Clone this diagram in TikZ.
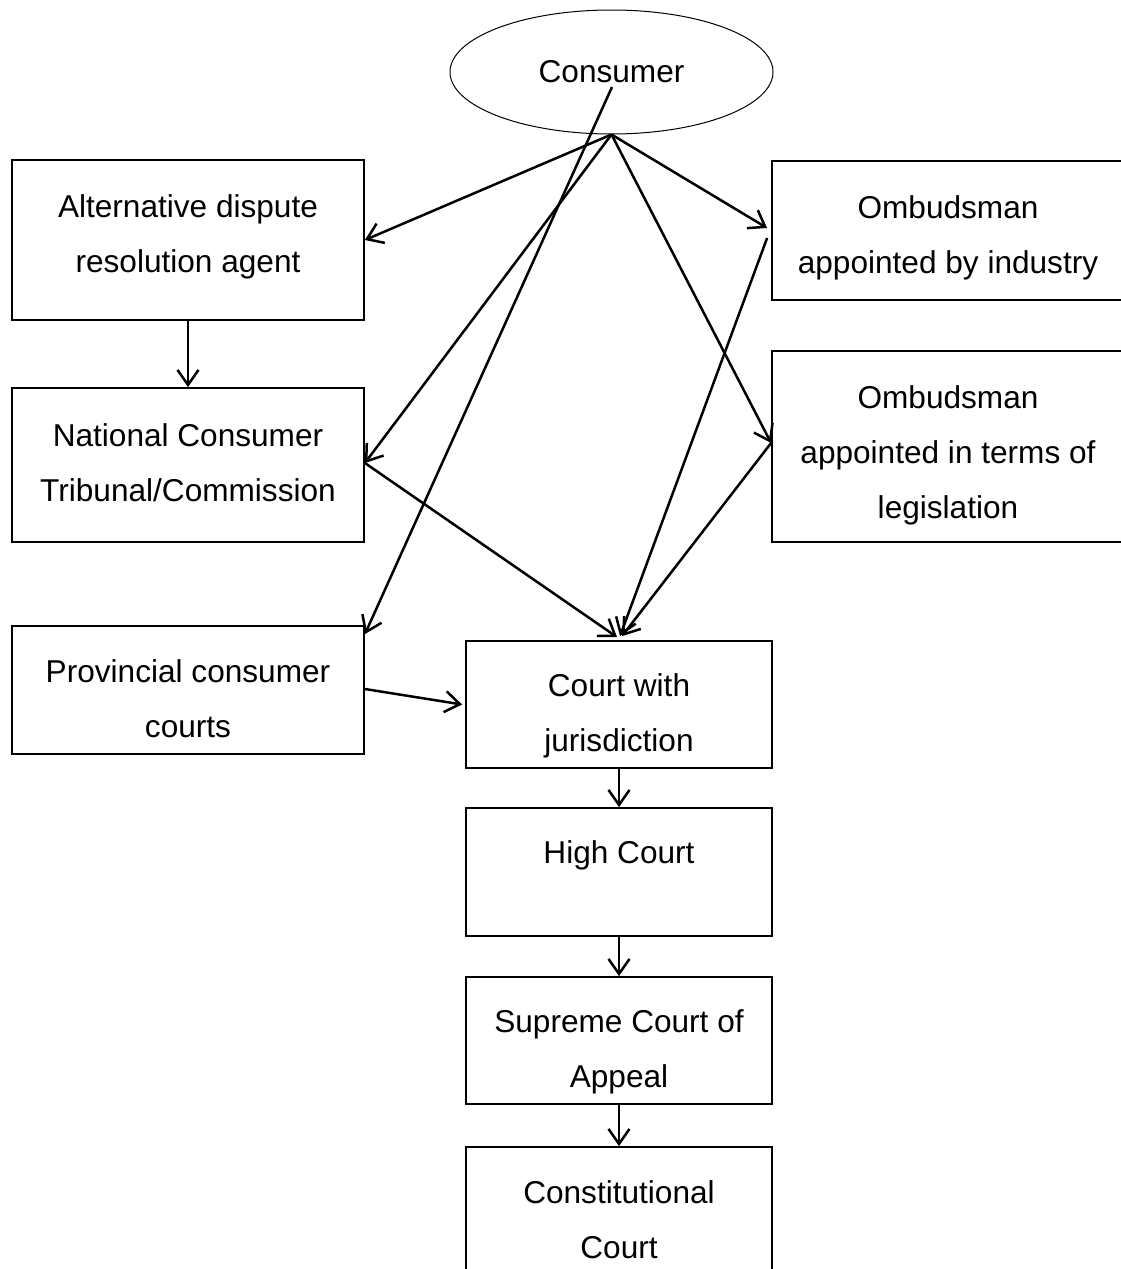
\documentclass[tikz,border=0pt]{standalone}
\usepackage{fontspec}
\setmainfont{Liberation Sans}
\usetikzlibrary{shapes.geometric,arrows.meta}
\begin{document}
\begin{tikzpicture}[x=1pt,y=-1pt,
  box/.style={draw,line width=1.8pt,rectangle,inner sep=0pt},
  wide/.style={box,minimum width=352pt},
  court/.style={box,minimum width=306pt},
  lbl/.style={inner sep=0pt,align=center,font=\fontsize{31.6pt}{55pt}\selectfont},
  conn/.style={line width=2.5pt,-{Straight Barb[length=15pt,width=21pt,line width=2.5pt]}}]
\useasboundingbox (0,0) rectangle (1121,1269);
\clip (0,0) rectangle (1121,1269);
% shapes
\node[draw,line width=1pt,ellipse,minimum width=323pt,minimum height=124pt,inner sep=0pt] (consumer) at (611.5,72) {};
\node[lbl] (consumert) at (611.5,72) {Consumer};
\coordinate (cin) at (612,87);
\node[wide,minimum height=160pt] (adr) at (188,240) {};
\node[lbl] (adrt) at (188,237) {Alternative dispute\\resolution agent};
\node[wide,minimum height=154pt] (nat) at (188,465) {};
\node[lbl] (natt) at (188,463) {National Consumer\\Tribunal/Commission};
\node[wide,minimum height=128pt] (prov) at (188,690) {};
\node[lbl] (provt) at (188,699) {Provincial consumer\\courts};
\node[wide,minimum height=139pt] (omb1) at (948,230.5) {};
\node[lbl] (omb1t) at (948,237.5) {Ombudsman\\appointed by industry};
\node[wide,minimum height=191pt] (omb2) at (948,446.5) {};
\node[lbl] (omb2t) at (948,455.5) {Ombudsman\\appointed in terms of\\legislation};
\node[court,minimum height=127pt] (cwj) at (619,704.5) {};
\node[lbl] (cwjt) at (619,715.5) {Court with\\jurisdiction};
\node[court,minimum height=128pt] (high) at (619,872) {};
\node[lbl] (hight) at (619,855) {High Court};
\node[court,minimum height=127pt] (sca) at (619,1040.5) {};
\node[lbl] (scat) at (619,1051.5) {Supreme Court of\\Appeal};
\node[court,minimum height=127pt] (cc) at (619,1210.5) {};
\node[lbl] (cct) at (619,1219.5) {Constitutional\\Court};
% connectors from consumer
\draw[conn] (consumer.south) -- (adr.east);
\draw[conn] (consumer.south) -- ([yshift=2pt]nat.east);
\draw[conn] (consumer.south) -- ([xshift=-4pt,yshift=2.5pt]omb1.west);
\draw[conn] (consumer.south) -- ([yshift=3.5pt]omb2.west);
\draw[conn] (cin) -- ([yshift=-9pt]prov.north east);
% to court with jurisdiction
\draw[conn] ([yshift=2pt]nat.east) -- ([xshift=-2pt,yshift=3pt]cwj.north);
\draw[conn] ([xshift=-4pt,yshift=-7.5pt]omb1.west) -- ([xshift=1pt,yshift=4pt]cwj.north);
\draw[conn] ([yshift=3.5pt]omb2.west) -- ([xshift=3pt,yshift=4pt]cwj.north);
\draw[conn] ([yshift=1pt]prov.east) -- ([xshift=-3pt]cwj.west);
% vertical chain
\draw[conn] (adr.south) -- (nat.north);
\draw[conn] (cwj.south) -- (high.north);
\draw[conn] (high.south) -- (sca.north);
\draw[conn] (sca.south) -- (cc.north);
\end{tikzpicture}
\end{document}
